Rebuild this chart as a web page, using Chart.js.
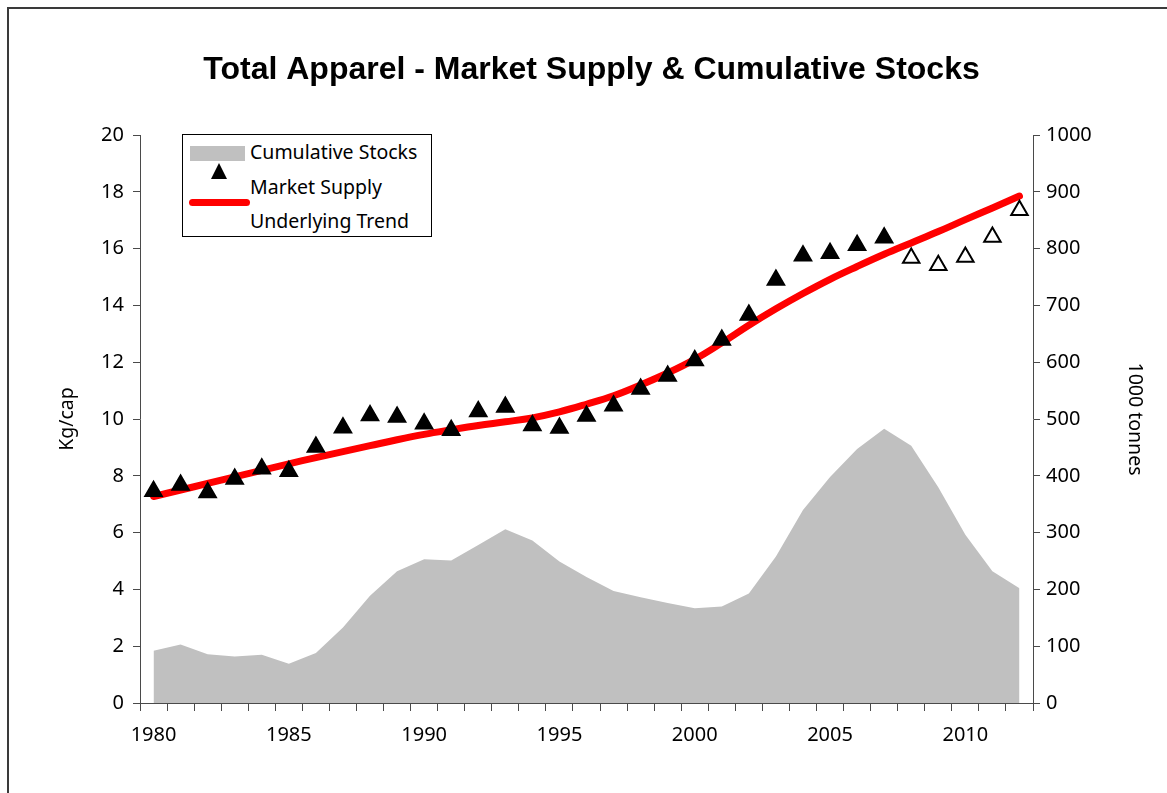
<!DOCTYPE html>
<html>
<head>
<meta charset="utf-8">
<script src="https://cdn.jsdelivr.net/npm/chart.js@4"></script>
<style>
    body { margin: 0; background: #fff; overflow: hidden; }
    #wrap { position: relative; width: 1167px; height: 793px; }
    #moldura { position: absolute; left: 7px; top: 7px; width: 1200px; height: 900px; border: 2px solid #3a3a3a; }
    #grafico { position: absolute; left: 0; top: 0; }
    #legenda { position: absolute; left: 182px; top: 134px; width: 248px; height: 101px; border: 1px solid #000; background: #fff;
        font-family: 'Noto Sans', sans-serif; font-size: 19.5px; line-height: 24px; color: #000; }
    #legenda .txt { position: absolute; left: 67px; white-space: nowrap; }
    .caixa-cinza { position: absolute; left: 7px; top: 11px; width: 55px; height: 15px; background: #c0c0c0; }
    .triangulo { position: absolute; left: 28px; top: 28px; width: 0; height: 0;
        border-left: 8px solid transparent; border-right: 8px solid transparent; border-bottom: 16px solid #000; }
    .linha-vermelha { position: absolute; left: 6px; top: 64px; width: 61px; height: 7px; background: #ff0000; border-radius: 4px; }
</style>
</head>
<body>
<div id="wrap">
    <div id="moldura"></div>
    <canvas id="grafico" width="1167" height="793"></canvas>
    <div id="legenda">
        <div class="caixa-cinza"></div>
        <div class="txt" style="top: 5px;">Cumulative Stocks</div>
        <div class="triangulo"></div>
        <div class="txt" style="top: 40px;">Market Supply</div>
        <div class="linha-vermelha"></div>
        <div class="txt" style="top: 74px;">Underlying Trend</div>
    </div>
</div>
<script>
// dados
const anos = ['1980', '1981', '1982', '1983', '1984', '1985', '1986', '1987', '1988', '1989',
    '1990', '1991', '1992', '1993', '1994', '1995', '1996', '1997', '1998', '1999',
    '2000', '2001', '2002', '2003', '2004', '2005', '2006', '2007', '2008', '2009',
    '2010', '2011', '2012'];

// Kg/cap
const oferta = [7.46, 7.68, 7.41, 7.89, 8.25, 8.16, 9.01, 9.69, 10.12, 10.07,
    9.83, 9.6, 10.26, 10.42, 9.77, 9.68, 10.11, 10.47, 11.06, 11.51,
    12.06, 12.78, 13.66, 14.89, 15.75, 15.84, 16.12, 16.38, 15.67, 15.41,
    15.7, 16.41, 17.35];

// 2008 em diante: pontos vazados
const ofertaVazada = [false, false, false, false, false, false, false, false, false, false,
    false, false, false, false, false, false, false, false, false, false,
    false, false, false, false, false, false, false, false, true, true,
    true, true, true];

const tendencia = [7.27, 7.5, 7.73, 7.96, 8.19, 8.42, 8.64, 8.85, 9.06, 9.27,
    9.46, 9.62, 9.77, 9.9, 10.04, 10.25, 10.52, 10.82, 11.2, 11.62,
    12.1, 12.68, 13.3, 13.88, 14.42, 14.92, 15.37, 15.8, 16.2, 16.6,
    17.02, 17.43, 17.85];

// 1000 tonnes
const estoques = [92, 103, 86, 82, 85, 69, 88, 133, 189, 232,
    253, 251, 278, 306, 286, 249, 222, 197, 186, 176,
    167, 170, 193, 258, 340, 398, 447, 483, 453, 380,
    296, 232, 202];

const fonteEixo = { family: 'Noto Sans', size: 20 };
const corEixo = '#4a4a4a';

const ctx = document.getElementById('grafico').getContext('2d');
new Chart(ctx, {
    type: 'line',
    data: {
        labels: anos,
        datasets: [{
            label: 'Market Supply',
            data: oferta,
            yAxisID: 'y',
            showLine: false,
            pointStyle: 'triangle',
            pointRadius: 9.5,
            pointBorderWidth: 2,
            pointBorderColor: '#000',
            pointBackgroundColor: ofertaVazada.map(v => v ? '#fff' : '#000'),
            order: 0
        }, {
            label: 'Underlying Trend',
            data: tendencia,
            yAxisID: 'y',
            borderColor: '#ff0000',
            borderWidth: 7,
            borderCapStyle: 'round',
            tension: 0.4,
            pointRadius: 0,
            fill: false,
            order: 1
        }, {
            label: 'Cumulative Stocks',
            data: estoques,
            yAxisID: 'y1',
            borderWidth: 0,
            borderColor: 'rgba(0,0,0,0)',
            backgroundColor: '#c0c0c0',
            pointRadius: 0,
            tension: 0,
            fill: 'origin',
            order: 2
        }]
    },
    options: {
        responsive: false,
        animation: false,
        layout: { padding: { left: 16, right: 0, top: 0, bottom: 0 } },
        plugins: {
            legend: { display: false },
            tooltip: { enabled: false },
            title: {
                display: true,
                text: 'Total Apparel - Market Supply & Cumulative Stocks',
                color: '#000',
                font: { family: 'Liberation Sans', size: 32, weight: 'bold', lineHeight: 1.2 },
                padding: { top: 51, bottom: 45.6 }
            }
        },
        scales: {
            x: {
                type: 'category',
                offset: true,
                grid: { offset: true, drawOnChartArea: false, tickLength: 8, color: corEixo },
                border: { color: corEixo, width: 1 },
                ticks: {
                    autoSkip: false,
                    maxRotation: 0,
                    color: '#000',
                    font: fonteEixo,
                    padding: 12,
                    callback: function (v, i) {
                        const ano = anos[i];
                        return Number(ano) % 5 === 0 ? ano : '';
                    }
                },
                afterFit: s => { s.height = 90; }
            },
            y: {
                position: 'left',
                min: 0,
                max: 20,
                grid: { drawOnChartArea: false, tickLength: 7, color: corEixo },
                border: { color: corEixo, width: 1 },
                ticks: { stepSize: 2, color: '#000', font: fonteEixo, padding: 9 },
                title: {
                    display: true,
                    text: 'Kg/cap',
                    color: '#000',
                    font: { family: 'Noto Sans', size: 19.5, lineHeight: 1.2 },
                    padding: { top: 39.5, bottom: 0 }
                },
                afterFit: s => { s.width = 124; }
            },
            y1: {
                position: 'right',
                min: 0,
                max: 1000,
                grid: { drawOnChartArea: false, tickLength: 7, color: corEixo },
                border: { color: corEixo, width: 1 },
                ticks: { stepSize: 100, color: '#000', font: fonteEixo, padding: 6, callback: v => String(v) },
                title: {
                    display: true,
                    text: '1000 tonnes',
                    color: '#000',
                    font: { family: 'Noto Sans', size: 19.5, lineHeight: 1.2 },
                    padding: { top: 21, bottom: 0 }
                },
                afterFit: s => { s.width = 134; }
            }
        }
    }
});
</script>
</body>
</html>
